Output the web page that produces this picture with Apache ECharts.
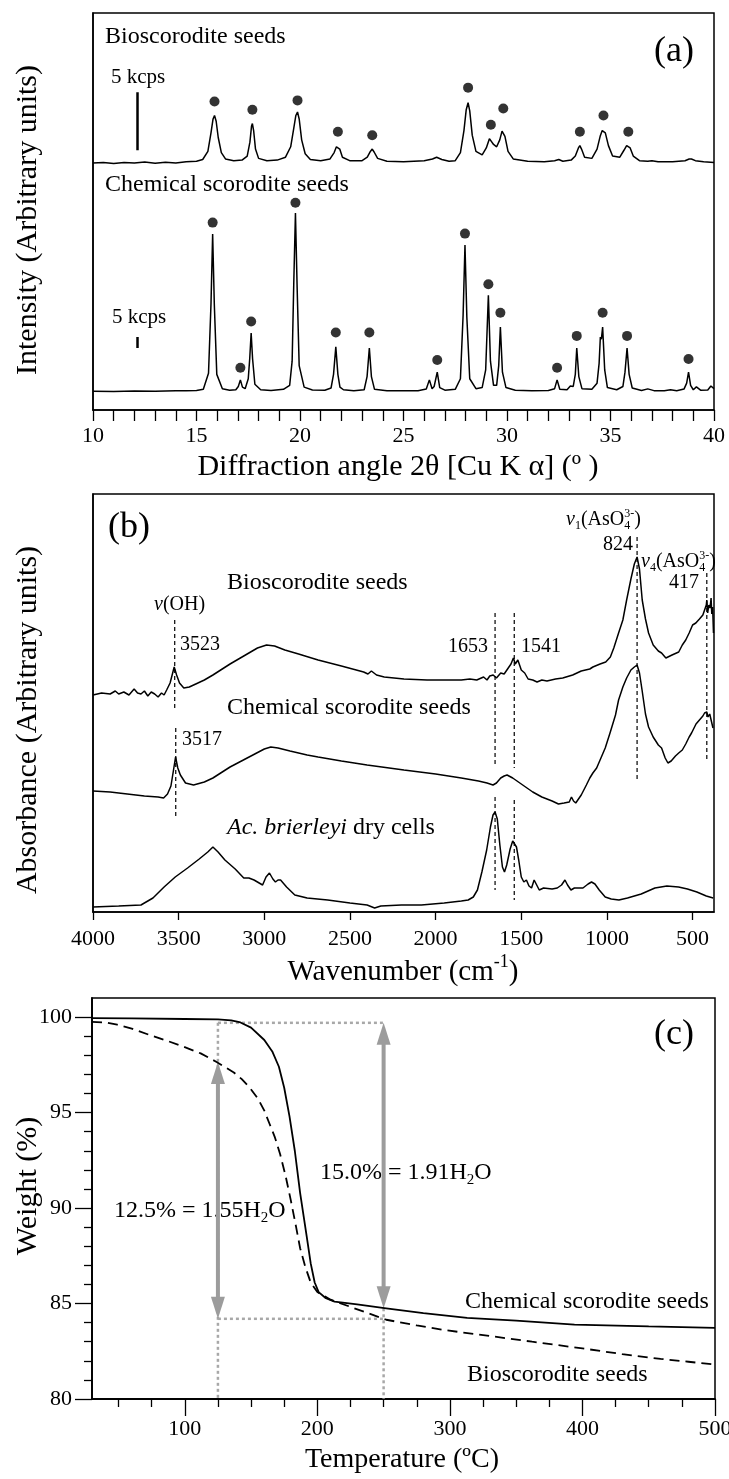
<!DOCTYPE html>
<html><head><meta charset="utf-8">
<script src="https://cdn.jsdelivr.net/npm/echarts@6/dist/echarts.min.js"></script>
<style>html,body{margin:0;padding:0;background:#fff}#c{width:729px;height:1479px}</style>
</head><body><div id="c"></div>
<script>
// ---------------- DATA ----------------
// (a) XRD, intensity in kcps above each pattern's baseline
const xrdChem = [[10.0,0.3],[11.0,0.2],[12.0,0.4],[13.0,0.3],[14.0,0.6],[14.5,0.5],[15.0,0.7],[15.33,1.2],[15.58,8.5],[15.70,40],[15.78,71.8],[15.86,40],[15.98,8],[16.25,1.5],[16.6,0.8],[16.9,1.0],[17.02,2.5],[17.12,5.5],[17.22,2.2],[17.35,1.5],[17.5,6],[17.57,15],[17.64,26.8],[17.71,15],[17.82,3.5],[18.1,1.0],[18.6,0.7],[19.2,1.2],[19.5,3],[19.62,14],[19.7,50],[19.78,81.4],[19.86,48],[19.96,12],[20.2,2.2],[20.6,0.9],[21.2,0.8],[21.5,1.8],[21.62,8],[21.73,20.5],[21.83,8],[21.93,2.2],[22.0,2.3],[22.1,1.0],[22.6,0.6],[23.1,1.0],[23.24,7],[23.35,20],[23.45,7],[23.6,1.2],[24.2,0.6],[25.0,0.5],[25.7,0.6],[26.1,1.3],[26.25,5.5],[26.38,1.5],[26.48,2.5],[26.63,9],[26.75,2],[27.0,0.8],[27.5,1.2],[27.75,6],[27.88,35],[27.97,66.8],[28.06,34],[28.2,6],[28.5,1.5],[28.8,2],[28.97,10],[29.1,44],[29.2,14],[29.35,3],[29.5,3],[29.6,12],[29.68,29.5],[29.78,9],[29.95,2],[30.4,0.8],[31.2,0.6],[32.0,0.7],[32.3,1.5],[32.42,5.5],[32.55,1.2],[32.9,1],[33.06,2.7],[33.2,2.5],[33.3,8],[33.37,20],[33.47,7],[33.62,1.5],[34.1,1.2],[34.35,4],[34.45,13],[34.51,25],[34.56,24],[34.62,29.5],[34.72,10],[34.85,2],[35.3,1.0],[35.6,2.5],[35.7,9],[35.8,20],[35.9,8],[36.05,1.8],[36.5,0.7],[36.8,1.4],[37.1,0.6],[37.6,0.6],[37.9,1.0],[38.2,0.6],[38.55,1.3],[38.68,4],[38.77,9],[38.87,3],[39.0,1],[39.15,2.3],[39.35,0.8],[39.7,0.9],[39.85,2.7],[40.0,1.5]];
const xrdBio = [[10.0,0.0],[10.5,0.05],[11.0,-0.05],[11.5,0.05],[12.0,0.0],[12.5,0.08],[13.0,-0.03],[13.5,0.06],[14.0,0.0],[14.5,0.1],[15.0,0.15],[15.3,0.3],[15.55,1.0],[15.7,2.6],[15.8,3.8],[15.87,4.1],[15.95,3.6],[16.05,2.2],[16.2,0.9],[16.4,0.35],[16.8,0.2],[17.2,0.25],[17.45,0.6],[17.58,1.8],[17.66,3.2],[17.7,3.4],[17.76,2.8],[17.85,1.2],[18.0,0.4],[18.4,0.2],[18.9,0.25],[19.3,0.5],[19.55,1.4],[19.7,3.0],[19.8,4.1],[19.88,4.4],[19.96,3.8],[20.08,2.0],[20.25,0.8],[20.5,0.3],[21.0,0.2],[21.45,0.35],[21.65,0.9],[21.76,1.4],[21.83,1.55],[21.92,1.2],[22.05,0.5],[22.4,0.2],[23.0,0.2],[23.25,0.5],[23.4,1.0],[23.49,1.2],[23.58,0.95],[23.75,0.4],[24.2,0.15],[25.0,0.1],[26.0,0.2],[26.4,0.35],[26.6,0.5],[26.67,0.5],[26.85,0.3],[27.2,0.15],[27.5,0.2],[27.75,0.9],[27.92,2.8],[28.03,4.6],[28.12,5.2],[28.2,4.5],[28.32,2.4],[28.5,1.0],[28.8,0.7],[29.0,1.3],[29.15,2.1],[29.22,2.2],[29.35,1.6],[29.5,1.4],[29.65,2.0],[29.76,2.75],[29.82,2.85],[29.9,2.3],[30.05,1.0],[30.3,0.35],[31.0,0.15],[31.8,0.1],[32.3,0.2],[32.5,0.3],[32.7,0.15],[33.1,0.25],[33.3,0.6],[33.45,1.3],[33.52,1.5],[33.6,1.2],[33.75,0.5],[34.1,0.4],[34.35,1.2],[34.5,2.3],[34.6,2.8],[34.66,2.85],[34.75,2.6],[34.9,1.5],[35.1,0.6],[35.45,0.5],[35.65,1.1],[35.78,1.5],[35.86,1.55],[35.95,1.3],[36.1,0.6],[36.4,0.2],[36.8,0.15],[37.0,0.2],[37.3,0.1],[38.0,0.1],[38.6,0.2],[38.8,0.35],[38.91,0.35],[39.1,0.2],[39.5,0.1],[40.0,0.05]];
// scorodite reflection markers (2θ, kcps)
const xrdBioDots = [[15.87,5.3],[17.7,4.6],[19.88,5.4],[21.83,2.7],[23.49,2.4],[28.12,6.5],[29.22,3.3],[29.82,4.7],[33.52,2.7],[34.66,4.1],[35.86,2.7]];
const xrdChemDots = [[15.78,77],[17.12,11],[17.64,32],[19.78,86],[21.73,27],[23.35,27],[26.63,14.5],[27.97,72],[29.1,49],[29.68,36],[32.42,11],[33.37,25.5],[34.62,36],[35.8,25.5],[38.77,15]];
// 5 kcps scale bars: [2θ, from kcps, to kcps]
const xrdBioBar = [12.15, 1.1, 6.1];
const xrdChemBar = [12.15, 20, 25];

// (b) FTIR, absorbance (arbitrary) above each spectrum's own baseline
const ftirBio = [[4000,2],[3950,4],[3900,3],[3870,6],[3850,3],[3820,5],[3790,2],[3760,8],[3740,4],[3720,3],[3700,6],[3680,1],[3660,5],[3640,3],[3620,0],[3600,4],[3585,2],[3570,7],[3550,14],[3535,24],[3526,30],[3512,22],[3495,14],[3470,9],[3438,10],[3400,13],[3350,17],[3300,22],[3200,33],[3100,43],[3040,49],[2987,52],[2940,51],[2880,47],[2800,43],[2686,37],[2550,31],[2420,25],[2395,23],[2375,26],[2360,24],[2345,22],[2300,20],[2185,18],[2050,17],[1934,17],[1850,17],[1800,18],[1760,17],[1720,20],[1700,17],[1684,21],[1664,22],[1645,19],[1620,24],[1600,23],[1580,28],[1560,33],[1546,39],[1535,33],[1520,37],[1500,27],[1480,24],[1460,18],[1433,17],[1408,15],[1380,17],[1350,16],[1300,18],[1258,19],[1200,22],[1150,26],[1100,28],[1082,30],[1040,33],[1007,35],[980,40],[960,49],[932,64],[907,77],[885,97],[860,118],[840,133],[824,140],[810,128],[794,97],[775,78],[757,64],[730,52],[700,46],[681,44],[656,39],[620,42],[581,45],[560,52],[540,57],[520,64],[500,72],[481,74],[460,78],[440,82],[430,84],[420,92],[417,97],[412,84],[405,92],[398,89],[392,99],[388,83],[383,90],[378,64]];
const ftirChem = [[4000,9],[3900,8],[3800,6],[3700,4],[3620,3],[3588,2],[3565,6],[3545,14],[3530,30],[3518,43],[3505,32],[3490,25],[3460,17],[3413,15],[3350,18],[3300,22],[3200,33],[3100,42],[3000,51],[2962,53],[2920,52],[2850,49],[2750,45],[2686,43],[2550,39],[2400,35],[2185,30],[2000,26],[1850,22],[1750,19],[1700,17],[1665,15],[1645,17],[1620,22],[1600,24],[1583,25],[1550,22],[1500,16],[1433,8],[1380,3],[1320,-1],[1283,-4],[1250,-3],[1220,-2],[1207,3],[1195,-1],[1182,-3],[1150,5],[1120,15],[1100,22],[1082,27],[1060,32],[1040,40],[1010,52],[982,67],[950,85],[932,100],[907,113],[885,122],[860,130],[840,133],[824,135],[810,127],[795,110],[775,86],[757,73],[730,63],[700,55],[681,52],[660,42],[644,37],[625,39],[600,44],[581,47],[560,50],[540,56],[520,63],[506,67],[480,76],[460,80],[440,84],[430,87],[417,88],[410,83],[400,86],[390,84],[381,72]];
const ftirCells = [[4000,0],[3850,1],[3720,2],[3650,9],[3585,20],[3520,30],[3448,39],[3380,48],[3330,55],[3300,60],[3270,55],[3230,47],[3170,38],[3120,29],[3090,29],[3060,27],[3030,24],[3010,22],[2990,30],[2970,34],[2950,28],[2935,25],[2920,27],[2905,27],[2870,20],[2822,12],[2750,9],[2630,7],[2500,4],[2400,2],[2356,-1],[2320,1],[2200,2],[2083,2],[1950,4],[1850,6],[1810,7],[1780,10],[1756,17],[1730,35],[1702,57],[1680,80],[1665,92],[1653,95],[1640,88],[1625,62],[1610,40],[1598,35],[1585,42],[1565,58],[1550,66],[1541,67],[1528,60],[1515,47],[1500,30],[1485,25],[1470,27],[1455,21],[1440,19],[1425,27],[1410,22],[1395,17],[1370,19],[1320,18],[1290,19],[1265,22],[1245,27],[1230,22],[1210,17],[1190,19],[1165,19],[1140,19],[1110,23],[1090,25],[1070,23],[1045,17],[1010,10],[975,8],[930,7],[880,9],[800,13],[720,19],[650,21],[582,20],[530,18],[475,15],[420,11],[380,9]];
// dashed band markers: [wavenumber, upper end, lower end] (absorbance axis units)
const ftirBands = [[3523,292,202],[3517,184,94],[1653,299,145],[1653,115,22],[1541,299,144],[1541,112,12],[824,375,130],[417,339,152]];
const ftirTicks = [500,1000,1500,2000,2500,3000,3500,4000];

// (c) TGA, weight %
const tgaChem = [[30,99.95],[60,99.93],[100,99.9],[125,99.88],[135,99.83],[142,99.72],[150,99.45],[160,98.8],[166,98.2],[171,97.4],[175,96.3],[179,94.8],[183,93.0],[187,90.8],[192,88.5],[195,87.1],[198,86.1],[201,85.6],[206,85.3],[213,85.1],[230,84.95],[252,84.75],[280,84.5],[313,84.25],[350,84.1],[394,83.9],[450,83.8],[500,83.72]];
const tgaBio = [[30,99.75],[40,99.72],[49,99.6],[60,99.4],[74,99.05],[87,98.75],[99,98.45],[112,98.1],[124,97.65],[137,97.1],[143,96.75],[149,96.3],[155,95.75],[160,95.1],[164,94.4],[168,93.7],[172,92.8],[176,91.7],[180,90.4],[184,89.0],[187,87.9],[191,86.9],[195,86.1],[200,85.6],[210,85.2],[226,84.8],[252,84.15],[275,83.85],[297,83.6],[330,83.3],[362,83.0],[400,82.65],[430,82.35],[459,82.1],[480,81.95],[500,81.8]];
const tgaArrows = [[125,97.65,84.2],[250,99.7,84.75]];
const tgaGuides = [[125,99.7,125,80],[125,99.7,250,99.7],[125,84.2,250,84.2],[250,84.75,250,80]];
const tgaMajorX = [100,200,300,400,500];
const tgaMinorX = [50,75,125,150,175,225,250,275,325,350,375,425,450,475];
const tgaMajorY = [80,85,90,95,100];
const tgaMinorY = [81,82,83,84,86,87,88,89,91,92,93,94,96,97,98,99];

// -------------- presentation constants --------------
const XRD_CHEM_BASE = 8.2, XRD_BIO_BASE = 112.3, XRD_BIO_GAIN = 5.27;
const FTIR_BIO_BASE = 215, FTIR_CHEM_BASE = 112, FTIR_CELL_BASE = 5;
const FF = 'Liberation Serif';
const BLACK = '#000';

const chart = echarts.init(document.getElementById('c'), null, {renderer:'canvas', width:729, height:1479});

const mctx = document.createElement('canvas').getContext('2d');
function tw(t, size, it){ mctx.font = (it?'italic ':'') + size + 'px "' + FF + '"'; return mctx.measureText(t).width; }
// parts: string | {t, it} | {sub, sup}
function label(parts, o) {
  const size = o.size, ss = Math.round(size*0.62);
  const items = []; let cx = 0;
  for (const p0 of parts) {
    const p = typeof p0 === 'string' ? {t:p0} : p0;
    if (p.sub !== undefined || p.sup !== undefined) {
      let w = 0;
      if (p.sub !== undefined) { items.push({t:p.sub, x:cx, dy:size*0.30, s:ss}); w = Math.max(w, tw(p.sub, ss)); }
      if (p.sup !== undefined) { items.push({t:p.sup, x:cx, dy:-size*0.33, s:ss}); w = Math.max(w, tw(p.sup, ss)); }
      cx += w;
    } else {
      items.push({t:p.t, x:cx, dy:0, s:size, it:p.it}); cx += tw(p.t, size, p.it);
    }
  }
  const x0 = o.align === 'center' ? -cx/2 : 0;
  return {
    type:'group', x:o.x, y:o.y, rotation:o.rotate||0,
    children: items.map(it => ({type:'text', x:x0+it.x, y:it.dy, style:{text:it.t, fontSize:it.s, fontFamily:FF, fontStyle:it.it?'italic':'normal', fill:BLACK, align:'left', verticalAlign:'middle'}}))
  };
}

const graphics = [
  // (a)
  label(['Bioscorodite seeds'], {x:105, y:37, size:24}),
  label(['(a)'], {x:654, y:52, size:36}),
  label(['5 kcps'], {x:111, y:77, size:21}),
  label(['Chemical scorodite seeds'], {x:105, y:185, size:24}),
  label(['5 kcps'], {x:112, y:317, size:21}),
  label(['Diffraction angle 2θ [Cu K α] (º )'], {x:398, y:467, size:30, align:'center'}),
  label(['Intensity (Arbitrary units)'], {x:28, y:220, size:30, align:'center', rotate:Math.PI/2}),
  // (b)
  label(['(b)'], {x:108, y:528, size:36}),
  label([{t:'v',it:true},{sub:'1'},'(AsO',{sub:'4',sup:'3-'},')'], {x:566, y:520, size:20}),
  label(['824'], {x:603, y:545, size:20}),
  label([{t:'v',it:true},{sub:'4'},'(AsO',{sub:'4',sup:'3-'},')'], {x:641, y:562, size:20}),
  label(['417'], {x:669, y:583, size:20}),
  label(['Bioscorodite seeds'], {x:227, y:583, size:24}),
  label([{t:'v',it:true},'(OH)'], {x:154, y:605, size:20}),
  label(['3523'], {x:180, y:645, size:20}),
  label(['1653'], {x:448, y:647, size:20}),
  label(['1541'], {x:521, y:647, size:20}),
  label(['Chemical scorodite seeds'], {x:227, y:708, size:24}),
  label(['3517'], {x:182, y:740, size:20}),
  label([{t:'Ac. brierleyi',it:true},' dry cells'], {x:227, y:828, size:24}),
  label(['Wavenumber (cm',{sup:'-1'},')'], {x:403, y:972, size:29, align:'center'}),
  label(['Absorbance (Arbitrary units)'], {x:28, y:720, size:30, align:'center', rotate:Math.PI/2}),
  // (c)
  label(['(c)'], {x:654, y:1035, size:36}),
  label(['15.0% = 1.91H',{sub:'2'},'O'], {x:320, y:1173, size:24}),
  label(['12.5% = 1.55H',{sub:'2'},'O'], {x:114, y:1211, size:24}),
  label(['Chemical scorodite seeds'], {x:465, y:1302, size:24}),
  label(['Bioscorodite seeds'], {x:467, y:1375, size:24}),
  label(['Temperature (ºC)'], {x:402, y:1460, size:28, align:'center'}),
  label(['Weight (%)'], {x:28, y:1186, size:30, align:'center', rotate:Math.PI/2})
];

const axLine = {show:true, lineStyle:{color:BLACK, width:1.5}};
const lblStyle = {color:BLACK, fontFamily:FF, fontSize:22};
const gridBase = {show:true, borderColor:BLACK, borderWidth:1.5, backgroundColor:'transparent', containLabel:false, outerBoundsMode:'none'};
const plain = v => String(v);

function bar(b, base, gain){ return [[b[0], base + gain*b[1]], [b[0], base + gain*b[2]]]; }

const option = {
  animation:false,
  backgroundColor:'#fff',
  grid:[
    Object.assign({left:93, top:13, width:621, height:397}, gridBase),
    Object.assign({left:93, top:494, width:621, height:418}, gridBase),
    Object.assign({left:92, top:998, width:623, height:401}, gridBase)
  ],
  xAxis:[
    {gridIndex:0, type:'value', min:10, max:40, interval:1, axisLine:axLine,
     axisTick:{show:true, length:11, lineStyle:{color:BLACK, width:1.3}},
     axisLabel:Object.assign({margin:15, formatter:v => (v % 5 === 0 ? String(v) : '')}, lblStyle),
     splitLine:{show:false}},
    {gridIndex:1, type:'value', inverse:true, min:375, max:4000, axisLine:axLine,
     axisTick:{show:true, length:8, customValues:ftirTicks, lineStyle:{color:BLACK, width:1.3}},
     axisLabel:Object.assign({margin:16, customValues:ftirTicks, formatter:plain}, lblStyle),
     splitLine:{show:false}},
    {gridIndex:2, type:'value', min:30, max:500, position:'bottom', axisLine:axLine,
     axisTick:{show:true, length:8, customValues:tgaMinorX, lineStyle:{color:BLACK, width:1.3}},
     axisLabel:{show:false}, splitLine:{show:false}},
    {gridIndex:2, type:'value', min:30, max:500, position:'bottom', axisLine:axLine,
     axisTick:{show:true, length:17, customValues:tgaMajorX, lineStyle:{color:BLACK, width:1.3}},
     axisLabel:Object.assign({margin:19, customValues:tgaMajorX, formatter:plain}, lblStyle), splitLine:{show:false}}
  ],
  yAxis:[
    {gridIndex:0, type:'value', min:0, max:180.5, axisLine:axLine, axisTick:{show:false}, axisLabel:{show:false}, splitLine:{show:false}},
    {gridIndex:1, type:'value', min:0, max:418, axisLine:axLine, axisTick:{show:false}, axisLabel:{show:false}, splitLine:{show:false}},
    {gridIndex:2, type:'value', min:80, max:101, position:'left', axisLine:axLine,
     axisTick:{show:true, length:8, customValues:tgaMinorY, lineStyle:{color:BLACK, width:1.3}},
     axisLabel:{show:false}, splitLine:{show:false}},
    {gridIndex:2, type:'value', min:80, max:101, position:'left', axisLine:axLine,
     axisTick:{show:true, length:17, customValues:tgaMajorY, lineStyle:{color:BLACK, width:1.3}},
     axisLabel:Object.assign({margin:20, customValues:tgaMajorY, formatter:plain}, lblStyle), splitLine:{show:false}}
  ],
  graphic:{elements:graphics},
  series:[
    // (a)
    {type:'line', xAxisIndex:0, yAxisIndex:0, showSymbol:false, symbol:'none', lineStyle:{color:BLACK, width:1.5},
     data:xrdBio.map(d => [d[0], XRD_BIO_BASE + XRD_BIO_GAIN*d[1]])},
    {type:'line', xAxisIndex:0, yAxisIndex:0, showSymbol:false, symbol:'none', lineStyle:{color:BLACK, width:1.5},
     data:xrdChem.map(d => [d[0], XRD_CHEM_BASE + d[1]])},
    {type:'scatter', xAxisIndex:0, yAxisIndex:0, symbol:'circle', symbolSize:10, itemStyle:{color:BLACK},
     data:xrdBioDots.map(d => [d[0], XRD_BIO_BASE + XRD_BIO_GAIN*d[1]]).concat(xrdChemDots.map(d => [d[0], XRD_CHEM_BASE + d[1]]))},
    {type:'line', xAxisIndex:0, yAxisIndex:0, showSymbol:false, symbol:'none', lineStyle:{color:BLACK, width:2.5}, data:bar(xrdBioBar, XRD_BIO_BASE, XRD_BIO_GAIN)},
    {type:'line', xAxisIndex:0, yAxisIndex:0, showSymbol:false, symbol:'none', lineStyle:{color:BLACK, width:2.5}, data:bar(xrdChemBar, XRD_CHEM_BASE, 1)},
    // (b)
    {type:'custom', xAxisIndex:1, yAxisIndex:1, data:ftirBands, encode:{x:0, y:[1,2]}, z:1,
     renderItem:(p, api) => { const a = api.coord([api.value(0), api.value(1)]), b = api.coord([api.value(0), api.value(2)]);
       return {type:'line', shape:{x1:a[0], y1:a[1], x2:b[0], y2:b[1]}, style:{stroke:BLACK, lineWidth:1.2, lineDash:[4,3]}}; }},
    {type:'line', xAxisIndex:1, yAxisIndex:1, showSymbol:false, symbol:'none', lineStyle:{color:BLACK, width:1.5}, z:3,
     data:ftirBio.map(d => [d[0], FTIR_BIO_BASE + d[1]])},
    {type:'line', xAxisIndex:1, yAxisIndex:1, showSymbol:false, symbol:'none', lineStyle:{color:BLACK, width:1.5}, z:3,
     data:ftirChem.map(d => [d[0], FTIR_CHEM_BASE + d[1]])},
    {type:'line', xAxisIndex:1, yAxisIndex:1, showSymbol:false, symbol:'none', lineStyle:{color:BLACK, width:1.5}, z:3,
     data:ftirCells.map(d => [d[0], FTIR_CELL_BASE + d[1]])},
    // (c)
    {type:'custom', xAxisIndex:2, yAxisIndex:2, data:tgaGuides, encode:{x:[0,2], y:[1,3]}, z:1,
     renderItem:(p, api) => { const a = api.coord([api.value(0), api.value(1)]), b = api.coord([api.value(2), api.value(3)]);
       return {type:'line', shape:{x1:a[0], y1:a[1], x2:b[0], y2:b[1]}, style:{stroke:'#a8a8a8', lineWidth:2.5, lineDash:[3,3]}}; }},
    {type:'custom', xAxisIndex:2, yAxisIndex:2, data:tgaArrows, encode:{x:0, y:[1,2]}, z:2,
     renderItem:(p, api) => { const a = api.coord([api.value(0), api.value(1)]), b = api.coord([api.value(0), api.value(2)]);
       const hl = 22, hw = 7, col = '#9c9c9c';
       return {type:'group', children:[
         {type:'line', shape:{x1:a[0], y1:a[1]+hl-2, x2:b[0], y2:b[1]-hl+2}, style:{stroke:col, lineWidth:4}},
         {type:'polygon', shape:{points:[[a[0],a[1]],[a[0]-hw,a[1]+hl],[a[0]+hw,a[1]+hl]]}, style:{fill:col}},
         {type:'polygon', shape:{points:[[b[0],b[1]],[b[0]-hw,b[1]-hl],[b[0]+hw,b[1]-hl]]}, style:{fill:col}}
       ]}; }},
    {type:'line', xAxisIndex:2, yAxisIndex:2, showSymbol:false, symbol:'none', lineStyle:{color:BLACK, width:1.8}, z:3, data:tgaChem},
    {type:'line', xAxisIndex:2, yAxisIndex:2, showSymbol:false, symbol:'none', lineStyle:{color:BLACK, width:1.8, type:[10,6]}, z:3, data:tgaBio}
  ]
};
chart.setOption(option);
</script>
</body></html>
